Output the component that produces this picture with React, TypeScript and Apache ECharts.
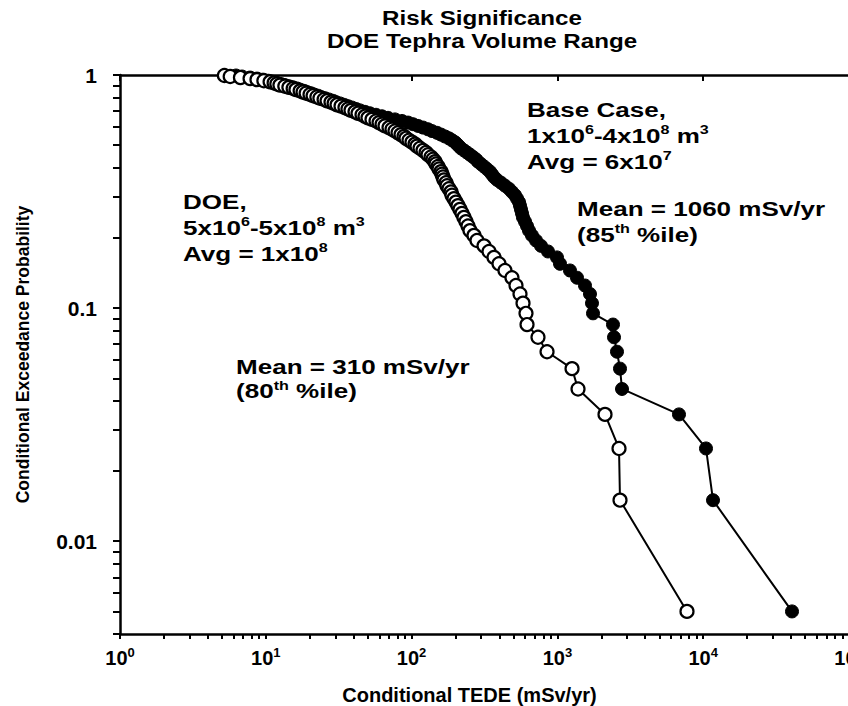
import React, { useEffect, useRef } from "react";
import * as echarts from "echarts";

// Exceedance probability assigned to each ranked realization (top to bottom)
const probability = [
  0.995, 0.985, 0.975, 0.965, 0.955, 0.945, 0.935, 0.925, 0.915, 0.905,
  0.895, 0.885, 0.875, 0.865, 0.855, 0.845, 0.835, 0.825, 0.815, 0.805,
  0.795, 0.785, 0.775, 0.765, 0.755, 0.745, 0.735, 0.725, 0.715, 0.705,
  0.695, 0.685, 0.675, 0.665, 0.655, 0.645, 0.635, 0.625, 0.615, 0.605,
  0.595, 0.585, 0.575, 0.565, 0.555, 0.545, 0.535, 0.525, 0.515, 0.505,
  0.495, 0.485, 0.475, 0.465, 0.455, 0.445, 0.435, 0.425, 0.415, 0.405,
  0.395, 0.385, 0.375, 0.365, 0.355, 0.345, 0.335, 0.325, 0.315, 0.305,
  0.295, 0.285, 0.275, 0.265, 0.255, 0.245, 0.235, 0.225, 0.215, 0.205,
  0.195, 0.185, 0.175, 0.165, 0.155, 0.145, 0.135, 0.125, 0.115, 0.105,
  0.095, 0.085, 0.075, 0.065, 0.055, 0.045, 0.035, 0.025, 0.015, 0.005,
];

// DOE tephra volume range (open circles), Conditional TEDE mSv/yr
const doeTede = [
  5.2, 5.7, 6.7, 7.8, 8.7, 9.7, 10.7, 11.4, 11.9, 12.5,
  13.5, 14.4, 15.4, 16.1, 17.2, 18.0, 18.9, 20.1, 21.1, 22.4,
  23.5, 25.1, 26.3, 28.0, 29.4, 30.8, 32.8, 34.9, 36.6, 38.4,
  40.9, 42.9, 45.7, 47.9, 50.2, 53.5, 57.0, 59.8, 62.7, 65.7,
  70.0, 73.4, 76.9, 80.7, 84.6, 88.7, 91.5, 96.0, 100.6, 105.5,
  108.9, 114.2, 119.7, 125.6, 129.6, 135.9, 140.3, 144.7, 147.0, 151.7,
  154.2, 159.1, 161.6, 164.2, 166.8, 172.2, 175.0, 180.5, 186.3, 189.3,
  195.3, 201.6, 208.1, 214.8, 221.6, 228.7, 236.1, 243.7, 251.5, 267.9,
  280.9, 313.8, 339.6, 367.6, 397.6, 437, 488, 520, 554, 581,
  609, 619, 736, 849, 1260, 1385, 2121, 2646, 2688, 7742,
];

// Base case (filled circles), Conditional TEDE mSv/yr
const baseTede = [
  6.25, 6.87, 7.79, 8.7, 9.57, 10.4, 11.2, 11.9, 12.7, 13.5,
  14.4, 15.4, 16.4, 17.2, 18.3, 19.2, 20.4, 21.4, 22.8, 23.9,
  25.5, 27.1, 28.9, 30.3, 32.3, 34.4, 36.6, 39.0, 41.6, 44.3,
  47.9, 51.8, 57.0, 62.7, 68.9, 76.9, 86.0, 94.5, 102.2, 110.6,
  119.7, 129.6, 138.0, 149.4, 159.1, 169.4, 180.5, 189.3, 198.5, 204.8,
  211.4, 218.2, 228.7, 239.9, 251.5, 263.7, 276.5, 285.4, 299.2, 313.8,
  329.0, 344.9, 355.9, 367.6, 385.2, 410.5, 437.0, 465.6, 488.2, 512.0,
  528.5, 545.5, 554.0, 562.8, 571.8, 580.8, 599.5, 619, 638.8, 669.6,
  713.4, 771.8, 861.9, 993.8, 1042, 1220, 1363, 1546, 1673, 1727,
  1755, 2406, 2445, 2563, 2688, 2774, 6823, 10452, 11675, 40650,
];

const xTickValues = [
  1, 2, 3, 4, 5, 6, 7, 8, 9,
  10, 20, 30, 40, 50, 60, 70, 80, 90,
  100, 200, 300, 400, 500, 600, 700, 800, 900,
  1000, 2000, 3000, 4000, 5000, 6000, 7000, 8000, 9000,
  10000, 20000, 30000, 40000, 50000, 60000, 70000, 80000, 90000,
  100000,
];
const xLabelValues = [1, 10, 100, 1000, 10000, 100000];
const yTickValues = [
  0.004, 0.005, 0.006, 0.007, 0.008, 0.009,
  0.01, 0.02, 0.03, 0.04, 0.05, 0.06, 0.07, 0.08, 0.09,
  0.1, 0.2, 0.3, 0.4, 0.5, 0.6, 0.7, 0.8, 0.9,
  1,
];
const yLabelValues = [0.01, 0.1, 1];

const titleText = "Risk Significance\nDOE Tephra Volume Range";
const xAxisTitle = "Conditional TEDE (mSv/yr)";
const yAxisTitle = "Conditional Exceedance Probability";
const baseNote = "{b|Base Case,}\n{b|1x10}{s|6}{b|-4x10}{s|8}{b| m}{s|3}\n{b|Avg = 6x10}{s|7}";
const baseMeanNote = "{b|Mean = 1060 mSv/yr}\n{b|(85}{s|th}{b| %ile)}";
const doeNote = "{b|DOE,}\n{b|5x10}{s|6}{b|-5x10}{s|8}{b| m}{s|3}\n{b|Avg = 1x10}{s|8}";
const doeMeanNote = "{b|Mean = 310 mSv/yr}\n{b|(80}{s|th}{b| %ile)}";

const FONT = "'Liberation Sans', Arial, Helvetica, sans-serif";

function noteRich(lh: number) {
  return {
    b: { fontFamily: FONT, fontWeight: "bold", fontSize: 21, lineHeight: lh, fill: "#000" },
    s: { fontFamily: FONT, fontWeight: "bold", fontSize: 13, lineHeight: 16, verticalAlign: "top", fill: "#000" },
  };
}

function note(text: string, x: number, y: number, lh: number) {
  return {
    type: "text",
    x,
    y,
    scaleX: 1.24,
    silent: true,
    style: {
      text,
      fill: "#000",
      font: `bold 21px ${FONT}`,
      align: "left",
      verticalAlign: "top",
      lineHeight: lh,
      rich: noteRich(lh),
    },
  };
}

export default function App() {
  const ref = useRef<HTMLDivElement>(null);

  useEffect(() => {
    if (!ref.current) return;
    const chart = echarts.init(ref.current, null, { renderer: "svg" });

    const logLabel = (v: number) => Math.round(Math.log10(v));
    const isDecade = (v: number) => Math.abs(Math.log10(v) - Math.round(Math.log10(v))) < 1e-6;

    const option: any = {
      animation: false,
      backgroundColor: "#fff",
      textStyle: { fontFamily: FONT, color: "#000" },
      grid: { left: 120, right: -1, top: 75, bottom: 72, containLabel: false, outerBoundsMode: "none" },
      xAxis: [
        {
          type: "log",
          logBase: 10,
          min: 1,
          max: 100000,
          position: "bottom",
          axisLine: { show: true, onZero: false, lineStyle: { color: "#000", width: 2.5 } },
          axisTick: { show: true, length: 5, lineStyle: { color: "#000", width: 2 }, customValues: xTickValues },
          axisLabel: {
            show: true,
            margin: 12,
            fontSize: 20,
            fontWeight: "bold",
            customValues: xLabelValues,
            formatter: (v: number) => (isDecade(v) ? `{b|10}{s|${logLabel(v)}}` : ""),
            rich: {
              b: { fontFamily: FONT, fontWeight: "bold", fontSize: 20, lineHeight: 23, color: "#000" },
              s: { fontFamily: FONT, fontWeight: "bold", fontSize: 13, lineHeight: 14, verticalAlign: "top", color: "#000" },
            },
          },
          splitLine: { show: false },
          minorTick: { show: false },
          name: xAxisTitle,
          nameLocation: "middle",
          nameGap: 51,
          nameTextStyle: { fontFamily: FONT, fontWeight: "bold", fontSize: 20, color: "#000", padding: [0, 30, 0, 0] },
        },
        {
          type: "log",
          logBase: 10,
          min: 1,
          max: 100000,
          position: "top",
          axisLine: { show: true, onZero: false, lineStyle: { color: "#000", width: 2.5 } },
          axisTick: { show: true, inside: true, length: 6, lineStyle: { color: "#000", width: 2 }, customValues: xLabelValues },
          axisLabel: { show: false },
          splitLine: { show: false },
        },
      ],
      yAxis: [
        {
          type: "log",
          logBase: 10,
          min: 0.004,
          max: 1,
          axisLine: { show: true, onZero: false, lineStyle: { color: "#000", width: 2.5 } },
          axisTick: { show: true, length: 7, lineStyle: { color: "#000", width: 2 }, customValues: yTickValues },
          axisLabel: {
            show: true,
            margin: 23,
            customValues: yLabelValues,
            fontFamily: FONT,
            fontWeight: "bold",
            fontSize: 21,
            color: "#000",
            formatter: (v: number) => (isDecade(v) ? String(parseFloat(v.toPrecision(6))) : ""),
          },
          splitLine: { show: false },
          name: yAxisTitle,
          nameLocation: "middle",
          nameRotate: 90,
          nameGap: 88,
          nameTextStyle: { fontFamily: FONT, fontWeight: "bold", fontSize: 17.5, color: "#000" },
        },
      ],
      series: [
        {
          type: "line",
          name: "Base Case",
          data: baseTede.map((v, i) => [v, probability[i]]),
          symbol: "circle",
          symbolSize: 13,
          showAllSymbol: true,
          lineStyle: { color: "#000", width: 2 },
          itemStyle: { color: "#000", borderColor: "#000", borderWidth: 1 },
          z: 2,
          silent: true,
        },
        {
          type: "line",
          name: "DOE",
          data: doeTede.map((v, i) => [v, probability[i]]),
          symbol: "circle",
          symbolSize: 13,
          showAllSymbol: true,
          lineStyle: { color: "#000", width: 2 },
          itemStyle: { color: "#fff", borderColor: "#000", borderWidth: 2.2 },
          z: 3,
          silent: true,
        },
      ],
      graphic: [
        {
          type: "text",
          x: 482,
          y: 7,
          scaleX: 1.15,
          silent: true,
          style: {
            text: titleText,
            fill: "#000",
            font: `bold 21px ${FONT}`,
            align: "center",
            verticalAlign: "top",
            lineHeight: 23,
          },
        },
        note(baseNote, 527, 97, 26),
        note(baseMeanNote, 577, 196, 26),
        note(doeNote, 183, 189, 26),
        note(doeMeanNote, 236, 355, 24),
      ],
    };

    chart.setOption(option);
    return () => {
      chart.dispose();
    };
  }, []);

  return (
    <div
      ref={ref}
      style={{ position: "fixed", left: 0, top: 0, width: 848, height: 706, background: "#fff" }}
    />
  );
}
